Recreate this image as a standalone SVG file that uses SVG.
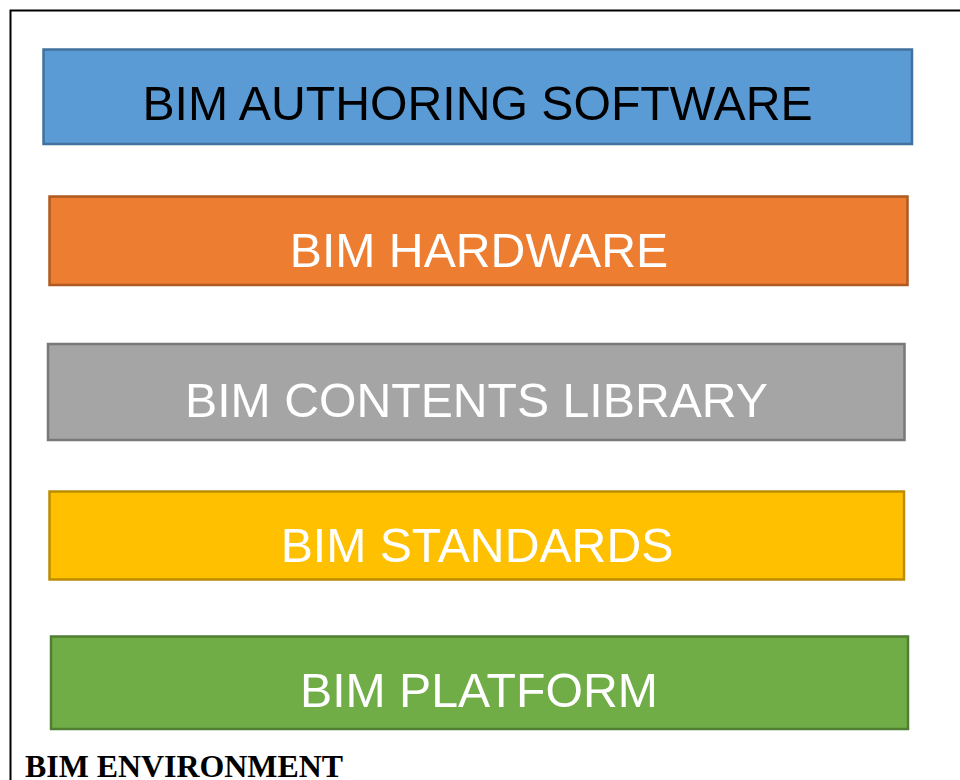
<svg xmlns="http://www.w3.org/2000/svg" width="960" height="780" viewBox="0 0 960 780">
<style>
.box{stroke-width:2.5}
.lbl{font-family:"Liberation Sans",Arial,sans-serif;font-size:48.2px;text-anchor:middle}
.w{fill:#FFFFFF}
</style>
<rect x="0" y="0" width="960" height="780" fill="#FFFFFF"/>
<rect x="10.5" y="10.5" width="970" height="800" fill="none" stroke="#000000" stroke-width="2"/>
<g id="node-authoring">
<rect class="box" x="43.5" y="49.5" width="868.5" height="94.5" fill="#5B9BD5" stroke="#41719C"/>
<text class="lbl" x="477.5" y="120" fill="#000000">BIM AUTHORING SOFTWARE</text>
</g>
<g id="node-hardware">
<rect class="box" x="49.5" y="196.5" width="858" height="88.5" fill="#ED7D31" stroke="#AE5A21"/>
<text class="lbl w" x="479" y="267">BIM HARDWARE</text>
</g>
<g id="node-library">
<rect class="box" x="48" y="344" width="856.5" height="96" fill="#A5A5A5" stroke="#787878"/>
<text class="lbl w" x="476.5" y="416.5">BIM CONTENTS LIBRARY</text>
</g>
<g id="node-standards">
<rect class="box" x="49.5" y="491.5" width="854.5" height="88" fill="#FFC000" stroke="#BC8C00"/>
<text class="lbl w" x="477" y="562">BIM STANDARDS</text>
</g>
<g id="node-platform">
<rect class="box" x="51" y="636.5" width="857" height="92.5" fill="#70AD47" stroke="#507E32"/>
<text class="lbl w" x="479" y="707">BIM PLATFORM</text>
</g>
<g id="connectors"></g>
<text x="25" y="776.5" font-family="'Liberation Serif','Times New Roman',serif" font-weight="bold" font-size="31.9" fill="#000000">BIM ENVIRONMENT</text>
</svg>
